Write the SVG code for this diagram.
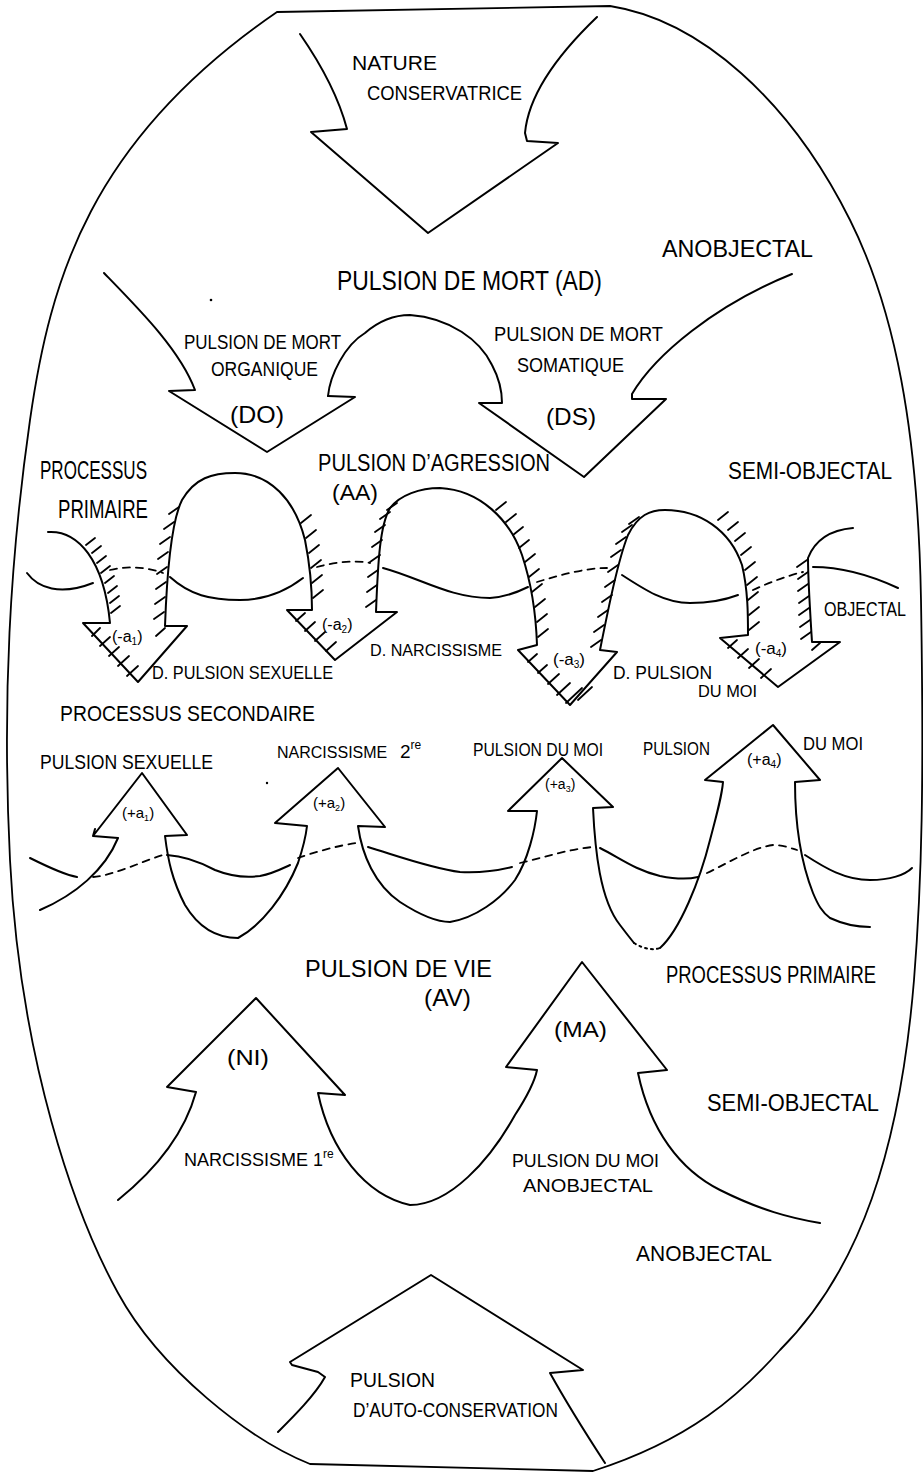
<svg xmlns="http://www.w3.org/2000/svg" width="923" height="1473" viewBox="0 0 923 1473">
<style>
.ln{fill:none;stroke:#000;stroke-width:2;stroke-linecap:round;stroke-linejoin:round}
.bd{fill:none;stroke:#000;stroke-width:1.8;stroke-linecap:round;stroke-linejoin:round}
.ds{fill:none;stroke:#000;stroke-width:1.8;stroke-dasharray:7 6;stroke-linecap:round}
.h{fill:none;stroke:#000;stroke-width:1.8;stroke-linecap:round}
.t{font-family:"Liberation Sans",Arial,sans-serif;fill:#000}
</style>
<rect width="923" height="1473" fill="#fff"/>
<g id="boundary">
<path class="bd" d="M277,12 L610,6 C700,20 790,100 850,220 C895,310 918,430 921,600 C924,780 922,880 914,980 C900,1150 860,1270 780,1350 C740,1395 690,1440 593,1471 L310,1464 C250,1440 160,1370 118,1293 C75,1215 20,1060 10,860 C2,700 10,560 30,420 C50,280 90,140 277,12"/>
</g>
<g id="node-nature">
<path class="ln" d="M300,34 C318,60 338,95 347,129 L311,132 L428,233 L558,143 L527,141 L525,133 C528,100 550,62 597,17"/>
<text class="t" x="352" y="70" font-size="20" textLength="85" lengthAdjust="spacingAndGlyphs">NATURE</text>
<text class="t" x="367" y="100" font-size="20" textLength="155" lengthAdjust="spacingAndGlyphs">CONSERVATRICE</text>
</g>
<g id="label-anobjectal-top">
<text class="t" x="662" y="257" font-size="24" textLength="151" lengthAdjust="spacingAndGlyphs">ANOBJECTAL</text>
</g>
<g id="node-pulsion-de-mort">
<text class="t" x="337" y="290" font-size="27" textLength="265" lengthAdjust="spacingAndGlyphs">PULSION DE MORT (AD)</text>
<circle cx="211" cy="300" r="1.3" fill="#000"/>
</g>
<g id="node-DO">
<path class="ln" d="M104,273 C140,310 180,350 195,390 L169,391 L267,452 L355,397 L328,396"/>
<text class="t" x="184" y="349" font-size="21" textLength="157" lengthAdjust="spacingAndGlyphs">PULSION DE MORT</text>
<text class="t" x="211" y="376" font-size="21" textLength="107" lengthAdjust="spacingAndGlyphs">ORGANIQUE</text>
<text class="t" x="230" y="423" font-size="24" textLength="54" lengthAdjust="spacingAndGlyphs">(DO)</text>
</g>
<g id="node-DS">
<path class="ln" d="M328,396 C330,375 345,345 365,333 C380,320 395,315 410,315 C450,318 480,340 492,365 C500,380 502,392 502,403 L479,403 L584,477 L666,399 L632,399 L632,394 C655,355 715,305 792,274"/>
<text class="t" x="494" y="341" font-size="21" textLength="169" lengthAdjust="spacingAndGlyphs">PULSION DE MORT</text>
<text class="t" x="517" y="372" font-size="21" textLength="107" lengthAdjust="spacingAndGlyphs">SOMATIQUE</text>
<text class="t" x="546" y="425" font-size="24" textLength="50" lengthAdjust="spacingAndGlyphs">(DS)</text>
</g>
<g id="node-aggression">
<path class="ln" d="M48,532 C78,530 104,560 110,623 L83,623 L138,682 L187,626 L165,626 C167,570 172,520 182,500 C195,478 212,473 235,473 C270,473 295,500 305,540 C310,565 312,590 312,610 L287,610 L335,660 L397,612 L376,612 C378,560 380,525 390,508 C400,495 420,488 440,488 C480,490 510,520 522,555 C532,585 536,615 537,645 L518,650 L570,705 L617,652 L600,650 C608,610 618,560 628,535 C638,515 650,510 665,510 C700,510 730,530 742,565 C748,590 748,615 748,635 L720,638 L778,687 L840,642 L812,642 C810,610 808,580 808,558 C815,540 830,530 853,528"/>
<path class="h" d="M86,545 l9,-7 M92,553 l9,-7 M97,563 l9,-7 M101,573 l9,-7 M105,583 l9,-7 M108,593 l9,-7 M110,603 l9,-7 M111,613 l9,-7
M154,619 l10,-7 M155,604 l10,-7 M156,589 l10,-7 M157,574 l10,-7 M158,559 l10,-7 M160,544 l10,-7 M164,529 l10,-7 M169,514 l10,-7
M301,523 l10,-8 M306,538 l10,-8 M309,553 l10,-8 M311,568 l10,-8 M312,583 l10,-8 M313,598 l10,-8
M366,607 l10,-7 M367,592 l10,-7 M368,577 l10,-7 M370,562 l10,-7 M372,547 l10,-7 M375,532 l10,-7 M380,519 l10,-7 M387,510 l10,-7
M496,510 l10,-8 M506,522 l10,-8 M513,535 l10,-8 M519,548 l10,-8 M525,562 l10,-8 M529,577 l10,-8 M532,592 l10,-8 M535,607 l10,-8 M537,622 l10,-8 M538,637 l10,-8
M591,647 l10,-7 M594,632 l10,-7 M598,617 l10,-7 M602,602 l10,-7 M605,587 l10,-7 M608,572 l10,-7 M611,557 l10,-7 M616,544 l10,-7 M622,532 l10,-7 M629,524 l10,-7
M718,520 l10,-8 M728,530 l10,-8 M735,541 l10,-8 M741,555 l10,-8 M745,570 l10,-8 M747,585 l10,-8 M748,600 l10,-8 M749,615 l10,-8 M749,630 l10,-8
M801,639 l10,-7 M800,627 l10,-7 M799,615 l10,-7 M799,603 l10,-7 M798,591 l10,-7 M798,579 l10,-7 M797,567 l10,-7
M92,636 l8,-8 M100,646 l10,-9 M109,656 l10,-9 M118,666 l11,-10 M127,676 l11,-10 M156,636 l9,-8
M296,621 l9,-8 M305,631 l10,-9 M315,641 l10,-9 M326,651 l10,-9
M528,662 l9,-8 M538,673 l9,-8 M548,684 l11,-10 M557,695 l13,-12 M566,703 l16,-15 M578,700 l14,-13
M728,648 l9,-8 M738,658 l10,-9 M749,668 l10,-9 M761,678 l10,-9 M812,650 l8,-7"/>
<text class="t" x="40" y="479" font-size="26" textLength="107" lengthAdjust="spacingAndGlyphs">PROCESSUS</text>
<text class="t" x="58" y="518" font-size="26" textLength="90" lengthAdjust="spacingAndGlyphs">PRIMAIRE</text>
<text class="t" x="318" y="471" font-size="23" textLength="232" lengthAdjust="spacingAndGlyphs">PULSION D’AGRESSION</text>
<text class="t" x="332" y="500" font-size="22" textLength="46" lengthAdjust="spacingAndGlyphs">(AA)</text>
<text class="t" x="728" y="479" font-size="24" textLength="164" lengthAdjust="spacingAndGlyphs">SEMI-OBJECTAL</text>
<text class="t" x="824" y="616" font-size="20" textLength="82" lengthAdjust="spacingAndGlyphs">OBJECTAL</text>
<text class="t" x="112" y="642" font-size="16">(-a<tspan font-size="10" dy="3">1</tspan><tspan dy="-3">)</tspan></text>
<text class="t" x="322" y="630" font-size="16">(-a<tspan font-size="10" dy="3">2</tspan><tspan dy="-3">)</tspan></text>
<text class="t" x="553" y="665" font-size="17">(-a<tspan font-size="10" dy="3">3</tspan><tspan dy="-3">)</tspan></text>
<text class="t" x="755" y="654" font-size="17">(-a<tspan font-size="10" dy="3">4</tspan><tspan dy="-3">)</tspan></text>
<text class="t" x="152" y="679" font-size="18" textLength="181" lengthAdjust="spacingAndGlyphs">D. PULSION SEXUELLE</text>
<text class="t" x="370" y="656" font-size="17" textLength="132" lengthAdjust="spacingAndGlyphs">D. NARCISSISME</text>
<text class="t" x="613" y="679" font-size="19" textLength="99" lengthAdjust="spacingAndGlyphs">D. PULSION</text>
<text class="t" x="698" y="697" font-size="16" textLength="59" lengthAdjust="spacingAndGlyphs">DU MOI</text>
<text class="t" x="60" y="721" font-size="22" textLength="255" lengthAdjust="spacingAndGlyphs">PROCESSUS SECONDAIRE</text>
</g>
<g id="node-life-objectal">
<path class="ln" d="M40,910 C75,895 105,870 118,838 L93,836 L95,829 M93,836 L142,773 L187,835 L165,836 C168,860 172,880 185,905 C200,930 220,938 238,938 C262,925 285,895 298,863 C303,848 306,835 307,826 L275,823 L338,768 L385,827 L358,826 C362,855 375,885 400,902 C420,915 437,922 450,922 C475,918 500,900 515,880 C528,860 535,830 537,811 L508,811 L562,758 L613,807 L593,808 C595,850 600,900 620,925 C626,933 630,938 634,943"/>
<path class="ln" d="M634,943 C645,950 655,950 660,948" stroke-dasharray="2 4"/>
<path class="ln" d="M660,948 C680,930 700,880 710,840 C718,810 722,795 723,782 L705,780 L773,725 L820,780 L795,782 C795,820 800,860 813,893 C818,905 822,912 830,918 C845,925 860,927 870,927"/>
<circle cx="267" cy="783" r="1.2" fill="#000"/>
<text class="t" x="40" y="769" font-size="20" textLength="173" lengthAdjust="spacingAndGlyphs">PULSION SEXUELLE</text>
<text class="t" x="277" y="758" font-size="16">NARCISSISME<tspan x="400" font-size="19">2</tspan><tspan font-size="12" dy="-9">re</tspan></text>
<text class="t" x="473" y="756" font-size="18" textLength="130" lengthAdjust="spacingAndGlyphs">PULSION DU MOI</text>
<text class="t" x="643" y="755" font-size="18" textLength="67" lengthAdjust="spacingAndGlyphs">PULSION</text>
<text class="t" x="803" y="750" font-size="18" textLength="60" lengthAdjust="spacingAndGlyphs">DU MOI</text>
<text class="t" x="122" y="818" font-size="15">(+a<tspan font-size="9" dy="3">1</tspan><tspan dy="-3">)</tspan></text>
<text class="t" x="313" y="808" font-size="15">(+a<tspan font-size="9" dy="3">2</tspan><tspan dy="-3">)</tspan></text>
<text class="t" x="545" y="789" font-size="14">(+a<tspan font-size="9" dy="3">3</tspan><tspan dy="-3">)</tspan></text>
<text class="t" x="747" y="765" font-size="16">(+a<tspan font-size="10" dy="3">4</tspan><tspan dy="-3">)</tspan></text>
</g>
<g id="connectors">
<path class="ln" d="M27,573 C38,588 60,596 93,583"/>
<path class="ds" d="M110,570 C130,565 150,568 163,573"/>
<path class="ln" d="M170,577 C190,595 210,600 240,600 C270,600 290,588 303,578"/>
<path class="ds" d="M317,567 C335,562 355,560 370,563"/>
<path class="ln" d="M383,568 C420,578 450,598 490,598 C505,597 518,592 528,587"/>
<path class="ds" d="M537,582 C560,575 585,568 607,568"/>
<path class="ln" d="M622,575 C645,590 665,603 690,603 C710,603 725,600 738,595"/>
<path class="ds" d="M753,590 C770,582 790,575 803,572"/>
<path class="ln" d="M813,567 C840,567 870,575 898,588"/>
<path class="ln" d="M30,858 C50,868 65,875 77,877"/>
<path class="ds" d="M93,877 C115,875 140,862 163,855"/>
<path class="ln" d="M167,855 C185,856 200,862 215,870 C230,876 245,878 260,876 C275,873 283,868 290,865"/>
<path class="ds" d="M298,858 C315,852 340,845 357,843"/>
<path class="ln" d="M368,847 C395,855 430,868 460,872 C480,873 500,870 512,867"/>
<path class="ds" d="M520,863 C545,857 570,849 593,847"/>
<path class="ln" d="M600,848 C620,858 635,870 660,876 C680,880 690,879 698,877"/>
<path class="ds" d="M707,873 C730,862 752,848 773,845 C783,845 790,848 797,850"/>
<path class="ln" d="M805,855 C825,868 845,880 870,880 C890,880 905,875 912,868"/>
</g>
<g id="node-pulsion-de-vie">
<text class="t" x="305" y="977" font-size="24" textLength="187" lengthAdjust="spacingAndGlyphs">PULSION DE VIE</text>
<text class="t" x="424" y="1006" font-size="24" textLength="47" lengthAdjust="spacingAndGlyphs">(AV)</text>
<text class="t" x="666" y="983" font-size="23" textLength="210" lengthAdjust="spacingAndGlyphs">PROCESSUS PRIMAIRE</text>
</g>
<g id="node-NI-MA">
<path class="ln" d="M118,1200 Q180,1150 196,1092 L167,1087 L256,998 L345,1095 L318,1093 C330,1150 365,1195 410,1205 C450,1205 490,1160 515,1115 C528,1095 535,1080 537,1070 L506,1067 L582,962 L667,1070 L638,1073 C650,1130 680,1170 720,1190 C760,1210 790,1218 820,1223"/>
<text class="t" x="227" y="1065" font-size="22" textLength="42" lengthAdjust="spacingAndGlyphs">(NI)</text>
<text class="t" x="554" y="1037" font-size="22" textLength="53" lengthAdjust="spacingAndGlyphs">(MA)</text>
<text class="t" x="184" y="1166" font-size="18">NARCISSISME 1<tspan font-size="12" dy="-8">re</tspan></text>
<text class="t" x="512" y="1167" font-size="19" textLength="147" lengthAdjust="spacingAndGlyphs">PULSION DU MOI</text>
<text class="t" x="523" y="1192" font-size="19" textLength="130" lengthAdjust="spacingAndGlyphs">ANOBJECTAL</text>
<text class="t" x="707" y="1111" font-size="23" textLength="172" lengthAdjust="spacingAndGlyphs">SEMI-OBJECTAL</text>
<text class="t" x="636" y="1261" font-size="22" textLength="136" lengthAdjust="spacingAndGlyphs">ANOBJECTAL</text>
</g>
<g id="node-auto-conservation">
<path class="ln" d="M278,1432 C295,1415 315,1395 325,1377 L318,1372 L292,1365 L290,1362 L431,1275 L583,1370 L550,1373 C565,1400 590,1440 605,1463"/>
<text class="t" x="350" y="1387" font-size="21" textLength="85" lengthAdjust="spacingAndGlyphs">PULSION</text>
<text class="t" x="353" y="1417" font-size="21" textLength="205" lengthAdjust="spacingAndGlyphs">D’AUTO-CONSERVATION</text>
</g>
</svg>
